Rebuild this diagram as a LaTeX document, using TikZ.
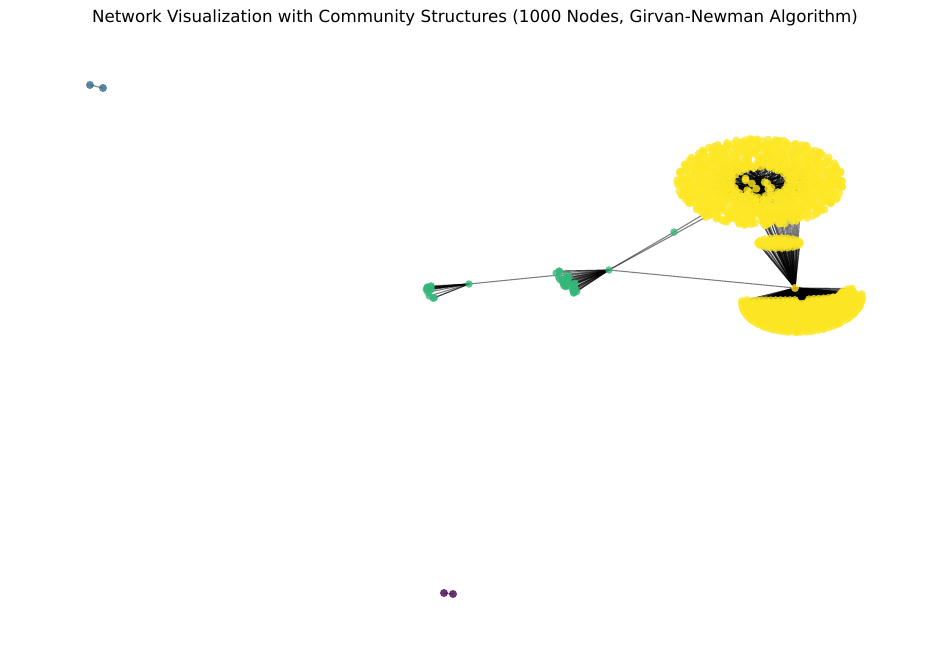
\documentclass[tikz,border=0pt]{standalone}
\usepackage{fontspec}
\setmainfont{DejaVu Sans}
\definecolor{vyel}{HTML}{FDE725}
\definecolor{vgrn}{HTML}{35B779}
\definecolor{vblu}{HTML}{31688E}
\definecolor{vpur}{HTML}{440154}
\tikzset{
  vnode/.style={circle, inner sep=0pt, minimum size=8pt, fill opacity=0.8, draw=none},
  ynode/.style={vnode, fill=vyel},
  gnode/.style={vnode, fill=vgrn, minimum size=7.5pt},
  bnode/.style={vnode, fill=vblu},
  pnode/.style={vnode, fill=vpur},
  link/.style={draw=black, draw opacity=0.5, line width=1.1pt},
  titletext/.style={font=\fontsize{16.7}{20}\selectfont}
}
\begin{document}
\begin{tikzpicture}[x=1pt,y=-1pt]
\useasboundingbox (0,0) rectangle (950,658);
\pgfmathsetseed{7}
\node[titletext] (title) at (475,18) {Network Visualization with Community Structures (1000 Nodes, Girvan-Newman Algorithm)};

% ---------- positions (coordinates) and connectors ----------
\coordinate (H) at (795,288);
\coordinate (LG) at (469,284);
\coordinate (MG) at (609,270);
\coordinate (G3) at (674,232);
\coordinate (Y1) at (704,214);
\coordinate (Y2) at (706,217);
\coordinate (B1) at (90,85);
\coordinate (B2) at (103,88);
\coordinate (P1) at (444,593);
\coordinate (P2) at (453,594);
\draw[link] (B1) -- (B2);
\draw[link] (P1) -- (P2);

% top yellow cluster: central core
\foreach \i in {1,...,12}{
  \pgfmathsetmacro{\ang}{360*rnd}
  \pgfmathsetmacro{\rr}{sqrt(rnd)}
  \pgfmathsetmacro{\px}{761+24*\rr*cos(\ang)}
  \pgfmathsetmacro{\py}{186+10*\rr*sin(\ang)}
  \coordinate (C\i) at (\px,\py);
}
\foreach \i in {1,...,12}{\foreach \j in {1,...,\i}{\draw[link] (C\i) -- (C\j);}}

% top yellow cluster: rings
\foreach \ri/\r/\n in {1/1.00/80,2/0.95/76,3/0.90/72,4/0.85/68,5/0.80/64,6/0.75/60,7/0.70/56,8/0.65/52,9/0.60/48,10/0.55/44,11/0.50/40,12/0.45/36,13/0.40/32,14/0.35/28}{
  \foreach \k in {1,...,\n}{
    \pgfmathsetmacro{\ang}{(360/\n)*\k+8*rnd}
    \pgfmathsetmacro{\rr}{\r+0.03*(rnd-0.5)}
    \pgfmathsetmacro{\px}{760+82*\rr*cos(\ang)}
    \pgfmathsetmacro{\py}{182+43*\rr*sin(\ang)}
    \pgfmathtruncatemacro{\c}{1+int(rnd*11.99)}
    \coordinate (T\ri-\k) at (\px,\py);
    \ifnum\ri>8 \draw[link] (T\ri-\k) -- (C\c);\fi
  }
}

% bridge connectors from top cluster to hub
\foreach \i in {0,...,30}{
  \pgfmathsetmacro{\px}{757+(43/30)*\i}
  \pgfmathsetmacro{\py}{211+5*rnd}
  \coordinate (Q\i) at (\px,\py);
  \draw[link] (Q\i) -- (H);
}

% small yellow ellipse
\foreach \si/\r/\n in {1/1.0/22,2/0.6/14,3/0.2/5}{
  \foreach \k in {1,...,\n}{
    \pgfmathsetmacro{\ang}{(360/\n)*\k}
    \pgfmathsetmacro{\px}{779+21*\r*cos(\ang)}
    \pgfmathsetmacro{\py}{243+5*\r*sin(\ang)}
    \coordinate (S\si-\k) at (\px,\py);
    \draw[link] (S\si-\k) -- (H);
  }
}

% bottom yellow cluster
\foreach \ri/\r/\n in {1/1.00/50,2/0.92/46,3/0.84/42,4/0.76/38,5/0.68/34,6/0.60/30,7/0.52/26,8/0.44/22,9/0.36/18,10/0.28/14,11/0.20/10,12/0.12/6}{
  \foreach \k in {0,...,\n}{
    \pgfmathsetmacro{\ang}{-4+(188/\n)*\k+3*(rnd-0.5)}
    \pgfmathsetmacro{\dx}{60*\r*cos(\ang)}
    \pgfmathsetmacro{\px}{802+\dx}
    \pgfmathsetmacro{\py}{300+32*\r*sin(\ang)-0.05*\dx}
    \coordinate (R\ri-\k) at (\px,\py);
    \draw[link] (H) -- (R\ri-\k);
  }
}
% bulge at the top right of the bottom cluster
\foreach \i in {1,...,22}{
  \pgfmathsetmacro{\ang}{360*rnd}
  \pgfmathsetmacro{\rr}{sqrt(rnd)}
  \pgfmathsetmacro{\px}{842+14*\rr*cos(\ang)}
  \pgfmathsetmacro{\py}{294-3*\rr*cos(\ang)+6*\rr*sin(\ang)}
  \coordinate (U\i) at (\px,\py);
  \draw[link] (H) -- (U\i);
}

% green left cluster
\foreach \i in {1,...,15}{
  \pgfmathsetmacro{\ang}{360*rnd}
  \pgfmathsetmacro{\rr}{sqrt(rnd)}
  \pgfmathsetmacro{\a}{9*\rr*cos(\ang)}
  \pgfmathsetmacro{\b}{4*\rr*sin(\ang)}
  \pgfmathsetmacro{\px}{430+0.45*\a-0.89*\b}
  \pgfmathsetmacro{\py}{291+0.89*\a+0.45*\b}
  \coordinate (L\i) at (\px,\py);
  \draw[link] (L\i) -- (LG);
}

% green middle cluster
\foreach \i in {1,...,30}{
  \pgfmathsetmacro{\ang}{360*rnd}
  \pgfmathsetmacro{\rr}{sqrt(rnd)}
  \pgfmathsetmacro{\a}{15*\rr*cos(\ang)}
  \pgfmathsetmacro{\b}{6*\rr*sin(\ang)}
  \pgfmathsetmacro{\px}{567+0.7*\a-0.7*\b}
  \pgfmathsetmacro{\py}{282+0.7*\a+0.7*\b}
  \coordinate (M\i) at (\px,\py);
  \draw[link] (M\i) -- (MG);
}

% inter-community links
\draw[link] (LG) -- (MG);
\draw[link] (MG) -- (G3);
\draw[link] (G3) -- (Y1);
\draw[link] (MG) -- (Y2);
\draw[link] (MG) -- (H);

% ---------- nodes drawn on top ----------
\foreach \i in {1,...,12}{\node[ynode] (nC\i) at (C\i) {};}
\foreach \ri/\n in {1/80,2/76,3/72,4/68,5/64,6/60,7/56,8/52,9/48,10/44,11/40,12/36,13/32,14/28}{
  \foreach \k in {1,...,\n}{\node[ynode] (nT\ri-\k) at (T\ri-\k) {};}
}
\foreach \i in {0,...,30}{\node[ynode] (nQ\i) at (Q\i) {};}
\foreach \si/\n in {1/22,2/14,3/5}{
  \foreach \k in {1,...,\n}{\node[ynode] (nS\si-\k) at (S\si-\k) {};}
}
\foreach \ri/\n in {1/50,2/46,3/42,4/38,5/34,6/30,7/26,8/22,9/18,10/14,11/10,12/6}{
  \foreach \k in {0,...,\n}{\node[ynode] (nR\ri-\k) at (R\ri-\k) {};}
}
\foreach \i in {1,...,22}{\node[ynode] (nU\i) at (U\i) {};}
\node[ynode] (nH) at (H) {};
\node[ynode] (nY1) at (Y1) {};
\node[ynode] (nY2) at (Y2) {};
\foreach \i in {1,...,15}{\node[gnode] (nL\i) at (L\i) {};}
\foreach \i in {1,...,30}{\node[gnode] (nM\i) at (M\i) {};}
\node[gnode] (nLG) at (LG) {};
\node[gnode] (nMG) at (MG) {};
\node[gnode] (nG3) at (G3) {};
\node[bnode] (nB1) at (B1) {};
\node[bnode] (nB2) at (B2) {};
\node[pnode] (nP1) at (P1) {};
\node[pnode] (nP2) at (P2) {};
\end{tikzpicture}
\end{document}
